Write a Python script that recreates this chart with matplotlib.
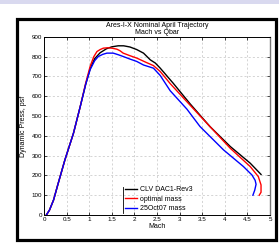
import matplotlib
matplotlib.use('Agg')
import matplotlib.pyplot as plt
from matplotlib.patches import Rectangle

plt.rcParams['font.family'] = ['Liberation Sans', 'DejaVu Sans']

# Mach vs dynamic pressure (psf)
black_mach = [0.05, 0.12, 0.21, 0.30, 0.46, 0.65, 0.80, 0.92, 1.02, 1.12, 1.24, 1.38, 1.50,
              1.64, 1.76, 1.90, 2.05, 2.20, 2.35, 2.46, 2.57, 2.86, 3.23, 3.67, 4.12, 4.56, 4.80]
black_q = [0, 25, 76, 150, 278, 413, 548, 660, 740, 790, 820, 840, 850,
           855, 855, 849, 836, 818, 784, 768, 742, 665, 562, 447, 346, 262, 205]

red_mach = [0.05, 0.12, 0.21, 0.30, 0.46, 0.65, 0.80, 0.92, 1.02, 1.10, 1.17, 1.24, 1.31, 1.40,
            1.50, 1.61, 1.68, 1.75, 1.90, 2.05, 2.25, 2.42, 2.57, 2.79, 3.23, 3.60, 4.12, 4.56,
            4.74, 4.80, 4.80, 4.76]
red_q = [0, 25, 76, 150, 278, 413, 548, 666, 752, 800, 826, 836, 843, 845,
         843, 838, 830, 818, 805, 793, 772, 755, 725, 664, 555, 464, 337, 245,
         194, 152, 115, 100]

blue_mach = [0.05, 0.12, 0.21, 0.30, 0.46, 0.65, 0.80, 0.92, 1.02, 1.12, 1.20, 1.30, 1.39,
             1.53, 1.64, 1.75, 1.90, 2.05, 2.20, 2.42, 2.57, 2.79, 3.16, 3.45, 3.97, 4.41,
             4.60, 4.67, 4.69, 4.66, 4.62]
blue_q = [0, 25, 76, 150, 278, 413, 548, 660, 735, 780, 801, 812, 818,
          818, 810, 801, 788, 776, 758, 742, 705, 628, 535, 447, 329, 245,
          202, 175, 155, 125, 100]

labels = ['CLV DAC1-Rev3', 'optimal mass', '25Oct07 mass']

fig = plt.figure(figsize=(2.79, 2.46), dpi=100)
fig.patch.set_facecolor('white')

# lavender strip on top and black frame around the plot
fig.patches.append(Rectangle((0, 0.984), 1, 0.016, transform=fig.transFigure,
                             facecolor='#d9d9ef', edgecolor='none'))
fig.patches.append(Rectangle((0.062, 0.025), 0.927, 0.899, transform=fig.transFigure,
                             facecolor='none', edgecolor='black', linewidth=2.3))

ax = fig.add_axes([0.158, 0.126, 0.810, 0.724])
ax.plot(black_mach, black_q, color='black', lw=1.0, label=labels[0])
ax.plot(red_mach, red_q, color='red', lw=1.0, label=labels[1])
ax.plot(blue_mach, blue_q, color='blue', lw=1.0, label=labels[2])

ax.set_xlim(0, 5)
ax.set_ylim(0, 900)
ax.set_xticks([0, 0.5, 1, 1.5, 2, 2.5, 3, 3.5, 4, 4.5, 5])
ax.set_xticklabels(['0', '0.5', '1', '1.5', '2', '2.5', '3', '3.5', '4', '4.5', '5'])
ax.set_yticks(range(0, 901, 100))
ax.tick_params(direction='in', length=2.5, width=0.5, labelsize=4.5, pad=1.5,
               top=True, right=True)
ax.grid(True, color='#c4c4c4', linestyle=(0, (3, 3)), linewidth=0.5)
for s in ax.spines.values():
    s.set_linewidth(0.7)
ax.spines['right'].set_color('#777777')
ax.spines['right'].set_linewidth(1.0)

ax.set_title('Ares-I-X Nominal April Trajectory\nMach vs Qbar', fontsize=5,
             pad=2, linespacing=1.1)
ax.set_xlabel('Mach', fontsize=5, labelpad=1)
ax.set_ylabel('Dynamic Press, psf', fontsize=5, labelpad=3)

ax.legend(loc='lower left', bbox_to_anchor=(0.36, 0.015), frameon=False, fontsize=5,
          handlelength=1.7, handletextpad=0.45, labelspacing=0.35, borderpad=0.0,
          borderaxespad=0.0)
ax.axvline(1.745, ymin=0.01, ymax=0.155, color='black', lw=0.6)

fig.savefig('out.png', dpi=100)
